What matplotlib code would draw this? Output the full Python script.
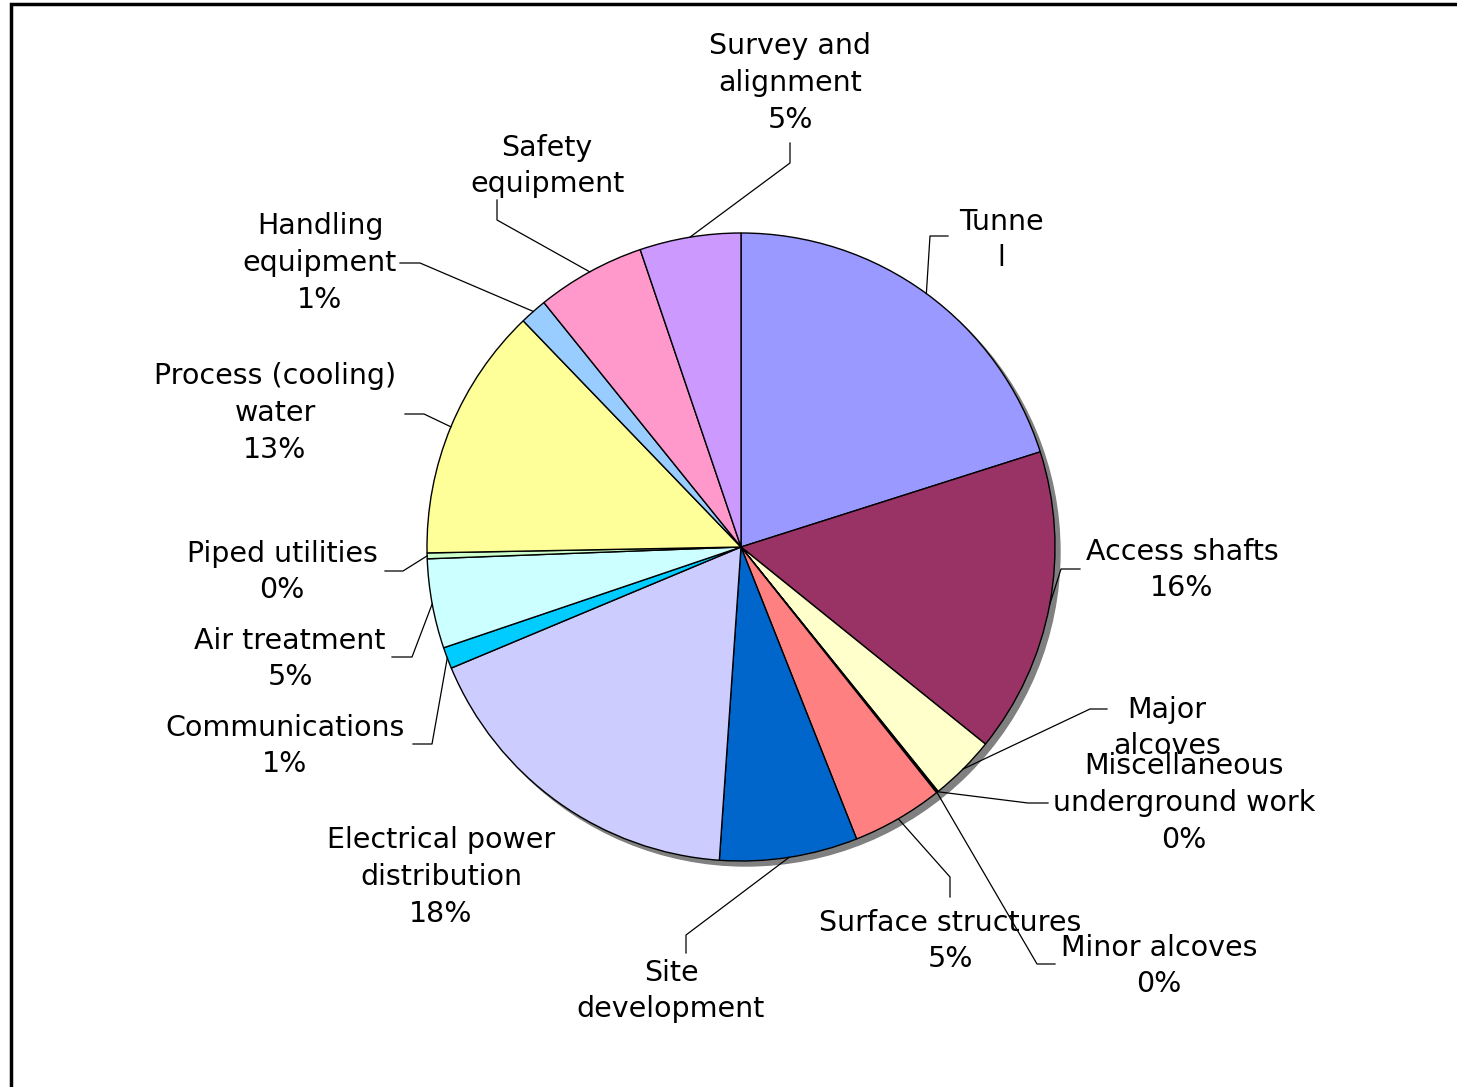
import numpy as np
import matplotlib
matplotlib.use('Agg')
import matplotlib.pyplot as plt
from matplotlib.patches import Circle, Rectangle

# cost breakdown by item (percent of total)
names = ['Tunne\nl', 'Access shafts', 'Major\nalcoves', 'Miscellaneous\nunderground work',
         'Minor alcoves', 'Surface structures', 'Site\ndevelopment',
         'Electrical power\ndistribution', 'Communications', 'Air treatment',
         'Piped utilities', 'Process (cooling)\nwater', 'Handling\nequipment',
         'Safety\nequipment', 'Survey and\nalignment']
values = [20.1, 15.7, 3.4, 0.05, 0.05, 4.7, 7.1, 17.6, 1.1, 4.6, 0.3, 13.1, 1.4, 5.6, 5.2]
show_pct = [False, True, False, True, True, True, False, True, True, True,
            True, True, True, False, True]
colors = ['#9999FF', '#993366', '#FFFFCC', '#CCFFFF', '#660066', '#FF8080', '#0066CC',
          '#CCCCFF', '#00CCFF', '#CCFFFF', '#CCFFCC', '#FFFF99', '#99CCFF', '#FF99CC',
          '#CC99FF']

W, H = 1457, 1087
cx, cy, r = 741, 547, 314

# label placement in pixel coords: text centre, elbow, end of leader (None = no leader)
text_pos = [(1001, 240), (1182, 570), (1167, 728), (1184, 803), (1159, 966),
            (950, 941), (671, 991), (441, 877), (285, 746), (290, 659),
            (282, 572), (275, 413), (320, 263), (547, 166), (790, 83)]
leaders = [((930, 236), (948, 236)), ((1061, 569), (1080, 569)), ((1090, 709), (1107, 709)),
           ((1028, 803), (1048, 803)), ((1037, 964), (1055, 964)), ((950, 877), (950, 897)),
           ((686, 935), (686, 953)), None, ((432, 744), (413, 744)),
           ((412, 657), (392, 657)), ((403, 571), (385, 571)), ((424, 414), (405, 414)),
           ((420, 263), (400, 263)), ((497, 220), (497, 200)), ((790, 163), (790, 143))]

fig = plt.figure(figsize=(W / 100, H / 100), dpi=100)
ax = fig.add_axes([0, 0, 1, 1])

# drop shadow under the pie
ax.add_patch(Circle((cx + 5, H - cy - 5), r, color='#808080', zorder=0))

wedges, _ = ax.pie(values, colors=colors, startangle=90, counterclock=False,
                   center=(cx, H - cy), radius=r,
                   wedgeprops=dict(edgecolor='black', linewidth=1))
for w in wedges:
    w.set_zorder(1)

ax.set_xlim(0, W)
ax.set_ylim(0, H)
ax.set_aspect('equal')
ax.axis('off')

for i, w in enumerate(wedges):
    txt = names[i]
    if show_pct[i]:
        txt += '\n%d%%' % round(values[i])
    tx, ty = text_pos[i]
    ax.text(tx, H - ty, txt, ha='center', va='center', fontsize=20.5,
            linespacing=1.4, family='DejaVu Sans', zorder=3)
    if leaders[i] is None:
        continue
    mid = np.deg2rad((w.theta1 + w.theta2) / 2)
    sx, sy = cx + r * np.cos(mid), H - cy + r * np.sin(mid)
    (ex, ey), (fx, fy) = leaders[i]
    ax.plot([sx, ex, fx], [sy, H - ey, H - fy], color='black', lw=0.9, zorder=2)

# chart border
fig.patches.append(Rectangle((11 / W, -0.05), 1.2, 1.05 - 4 / H, transform=fig.transFigure,
                             fill=False, edgecolor='black', linewidth=2.5))

fig.savefig('out.png', dpi=100)
